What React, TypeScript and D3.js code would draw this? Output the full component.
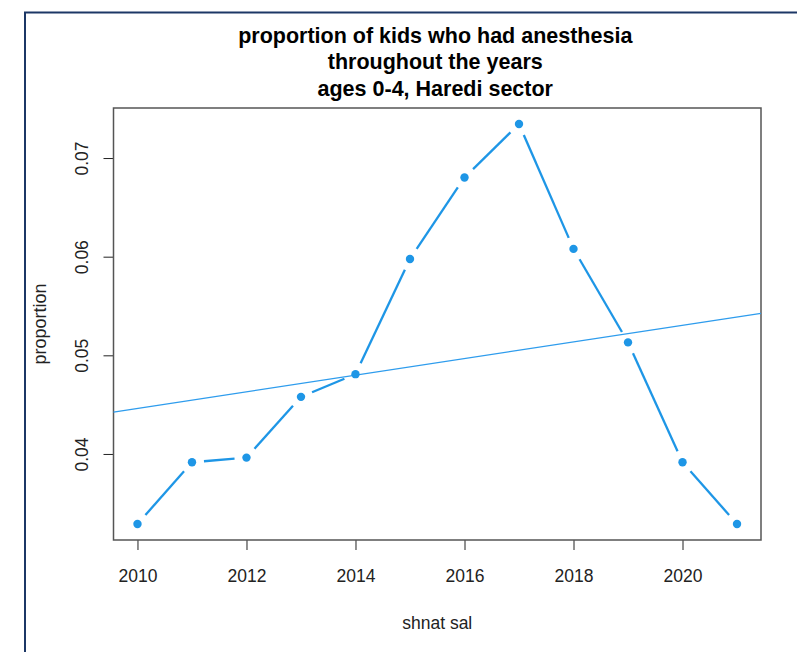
import React, { useEffect, useRef } from "react";
import * as d3 from "d3";

// values
const years = [2010, 2011, 2012, 2013, 2014, 2015, 2016, 2017, 2018, 2019, 2020, 2021];
const proportion = [
  0.0329, 0.03916, 0.03963, 0.04579, 0.04809, 0.05977,
  0.06803, 0.07345, 0.06079, 0.05131, 0.03916, 0.0329,
];
const xTicks = [2010, 2012, 2014, 2016, 2018, 2020];
const yTicks = [0.04, 0.05, 0.06, 0.07];
const titleLines = [
  "proportion of kids who had anesthesia",
  "throughout the years",
  "ages 0-4, Haredi sector",
];
const xLabel = "shnat sal";
const yLabel = "proportion";

const W = 797;
const H = 652;
const FONT = "'Liberation Sans', Arial, sans-serif";
const BLUE = "#1e96e6";

const App: React.FC = () => {
  const svgRef = useRef<SVGSVGElement | null>(null);

  useEffect(() => {
    if (!svgRef.current) return;
    const svg = d3.select(svgRef.current);
    svg.selectAll("*").remove();

    const plot = { left: 113.5, right: 761, top: 108, bottom: 540 };

    // R style: range padded by 4% on each side
    const padded = (ext: [number, number]) => {
      const d = (ext[1] - ext[0]) * 0.04;
      return [ext[0] - d, ext[1] + d];
    };
    const x = d3
      .scaleLinear()
      .domain(padded(d3.extent(years) as [number, number]))
      .range([plot.left, plot.right]);
    const y = d3
      .scaleLinear()
      .domain(padded(d3.extent(proportion) as [number, number]))
      .range([plot.bottom, plot.top]);

    svg.append("rect").attr("width", W).attr("height", H).attr("fill", "#fff");

    // outer frame (only left/top visible)
    svg
      .append("path")
      .attr("d", `M25,${H} V12.5 H${W}`)
      .attr("fill", "none")
      .attr("stroke", "#1c3766")
      .attr("stroke-width", 2);

    // title
    const title = svg
      .append("text")
      .attr("text-anchor", "middle")
      .attr("font-family", FONT)
      .attr("font-weight", "bold")
      .attr("font-size", 21.5)
      .attr("fill", "#000");
    titleLines.forEach((t, i) => {
      title
        .append("tspan")
        .attr("x", (plot.left + plot.right) / 2 - 2)
        .attr("y", 42.5 + i * 26.5)
        .text(t);
    });

    // x axis
    const gx = svg
      .append("g")
      .attr("transform", `translate(0,${plot.bottom})`)
      .call(d3.axisBottom(x).tickValues(xTicks).tickSize(10).tickFormat(d3.format("d")));
    gx.select(".domain").remove();
    gx.selectAll("line").attr("stroke", "#222");
    gx.selectAll("text")
      .attr("y", 42)
      .attr("dy", 0)
      .attr("font-family", FONT)
      .attr("font-size", 17.5)
      .attr("fill", "#222");

    // y axis
    const gy = svg
      .append("g")
      .attr("transform", `translate(${plot.left},0)`)
      .call(d3.axisLeft(y).tickValues(yTicks).tickSize(10).tickFormat(d3.format(".2f")));
    gy.select(".domain").remove();
    gy.selectAll("line").attr("stroke", "#222");
    gy.selectAll("text")
      .attr("x", 0)
      .attr("y", 0)
      .attr("dy", 0)
      .attr("text-anchor", "middle")
      .attr("transform", "translate(-25.5,0) rotate(-90)")
      .attr("font-family", FONT)
      .attr("font-size", 17.5)
      .attr("fill", "#222");

    // plot box
    svg
      .append("rect")
      .attr("x", plot.left)
      .attr("y", plot.top)
      .attr("width", plot.right - plot.left)
      .attr("height", plot.bottom - plot.top)
      .attr("fill", "none")
      .attr("stroke", "#555")
      .attr("stroke-width", 1.5);

    // axis titles
    svg
      .append("text")
      .attr("x", (plot.left + plot.right) / 2)
      .attr("y", 629)
      .attr("text-anchor", "middle")
      .attr("font-family", FONT)
      .attr("font-size", 17.5)
      .attr("fill", "#222")
      .text(xLabel);
    svg
      .append("text")
      .attr("transform", `translate(46,${(plot.top + plot.bottom) / 2}) rotate(-90)`)
      .attr("text-anchor", "middle")
      .attr("font-family", FONT)
      .attr("font-size", 18)
      .attr("fill", "#222")
      .text(yLabel);

    // linear fit (lm) over the data, clipped to plot area
    const mx = d3.mean(years)!;
    const my = d3.mean(proportion)!;
    const sxy = d3.sum(years, (v, i) => (v - mx) * (proportion[i] - my));
    const sxx = d3.sum(years, v => (v - mx) ** 2);
    const slope = sxy / sxx;
    const icpt = my - slope * mx;
    const [x0, x1] = x.domain();
    svg
      .append("line")
      .attr("x1", x(x0))
      .attr("y1", y(icpt + slope * x0))
      .attr("x2", x(x1))
      .attr("y2", y(icpt + slope * x1))
      .attr("stroke", "#2e9ced")
      .attr("stroke-width", 1.3);

    // type = "b": segments with gaps around the points
    const gap = 12;
    const pts = years.map((v, i) => [x(v), y(proportion[i])] as [number, number]);
    const segs = d3.pairs(pts).map(([a, b]) => {
      const dx = b[0] - a[0];
      const dy = b[1] - a[1];
      const len = Math.hypot(dx, dy);
      const ux = dx / len;
      const uy = dy / len;
      return [a[0] + ux * gap, a[1] + uy * gap, b[0] - ux * gap, b[1] - uy * gap];
    });
    svg
      .append("g")
      .selectAll("line")
      .data(segs)
      .join("line")
      .attr("x1", d => d[0])
      .attr("y1", d => d[1])
      .attr("x2", d => d[2])
      .attr("y2", d => d[3])
      .attr("stroke", BLUE)
      .attr("stroke-width", 2.3);

    svg
      .append("g")
      .selectAll("circle")
      .data(pts)
      .join("circle")
      .attr("cx", d => d[0])
      .attr("cy", d => d[1])
      .attr("r", 4.2)
      .attr("fill", BLUE);
  }, []);

  return (
    <div style={{ position: "absolute", left: 0, top: 0 }}>
      <svg ref={svgRef} width={W} height={H} style={{ display: "block" }}></svg>
    </div>
  );
};

export default App;
